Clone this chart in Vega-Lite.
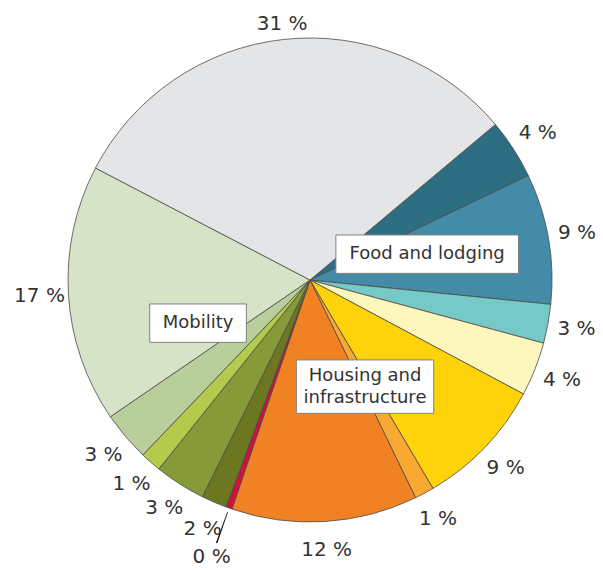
{
  "$schema": "https://vega.github.io/schema/vega-lite/v6.json",
  "width": 560,
  "height": 520,
  "autosize": "none",
  "padding": {"left": 30, "top": 20, "right": 13, "bottom": 32},
  "background": "white",
  "config": {"view": {"stroke": null}, "font": "DejaVu Sans"},
  "datasets": {
    "slices": [
      {"category": "Food and lodging 1", "group": "Food and lodging", "value": 4.0},
      {"category": "Food and lodging 2", "group": "Food and lodging", "value": 8.7},
      {"category": "Food and lodging 3", "group": "Food and lodging", "value": 2.6},
      {"category": "Housing and infrastructure 1", "group": "Housing and\ninfrastructure", "value": 3.6},
      {"category": "Housing and infrastructure 2", "group": "Housing and\ninfrastructure", "value": 8.7},
      {"category": "Housing and infrastructure 3", "group": "Housing and\ninfrastructure", "value": 1.3},
      {"category": "Housing and infrastructure 4", "group": "Housing and\ninfrastructure", "value": 12.4},
      {"category": "Housing and infrastructure 5", "group": "Housing and\ninfrastructure", "value": 0.4},
      {"category": "Mobility 1", "group": "Mobility", "value": 1.7},
      {"category": "Mobility 2", "group": "Mobility", "value": 3.4},
      {"category": "Mobility 3", "group": "Mobility", "value": 1.4},
      {"category": "Mobility 4", "group": "Mobility", "value": 3.3},
      {"category": "Mobility 5", "group": "Mobility", "value": 17.2},
      {"category": "Other", "group": "Other", "value": 31.2}
    ]
  },
  "data": {"name": "slices"},
  "transform": [
    {"window": [{"op": "row_number", "as": "idx"}]},
    {"calculate": "format(datum.value, '.0f') + ' %'", "as": "label"}
  ],
  "layer": [
    {
      "mark": {"type": "arc", "outerRadius": 242, "stroke": "#4a4a4a", "strokeWidth": 0.8},
      "encoding": {
        "theta": {"field": "value", "type": "quantitative", "stack": true, "scale": {"range": [0.8727, 7.1559]}},
        "order": {"field": "idx", "type": "quantitative"},
        "color": {
          "field": "category",
          "type": "nominal",
          "legend": null,
          "scale": {
            "domain": ["Food and lodging 1", "Food and lodging 2", "Food and lodging 3", "Housing and infrastructure 1", "Housing and infrastructure 2", "Housing and infrastructure 3", "Housing and infrastructure 4", "Housing and infrastructure 5", "Mobility 1", "Mobility 2", "Mobility 3", "Mobility 4", "Mobility 5", "Other"],
            "range": ["#2e6e82", "#438ba7", "#75c9c7", "#fef7bd", "#ffd309", "#f9a832", "#f18223", "#d0103d", "#6b7820", "#879a38", "#b3cb4b", "#b8cf9b", "#d6e3c7", "#e4e5e7"]
          }
        }
      }
    },
    {
      "mark": {"type": "arc", "innerRadius": 246, "outerRadius": 279, "padAngle": 0.0146, "color": "#1a1a1a"},
      "encoding": {
        "theta": {"field": "value", "type": "quantitative", "stack": true, "scale": {"range": [0.8727, 7.1559]}},
        "order": {"field": "idx", "type": "quantitative"},
        "detail": {"field": "category", "type": "nominal"},
        "opacity": {"condition": {"test": "datum.category === 'Housing and infrastructure 5'", "value": 1}, "value": 0}
      }
    },
    {
      "mark": {"type": "text", "radius": 271, "fontSize": 20, "fill": "#333333", "font": "DejaVu Sans"},
      "encoding": {
        "theta": {"field": "value", "type": "quantitative", "stack": true, "scale": {"range": [0.8727, 7.1559]}},
        "order": {"field": "idx", "type": "quantitative"},
        "detail": {"field": "category", "type": "nominal"},
        "text": {"field": "label", "type": "nominal", "condition": {"test": "datum.category === 'Housing and infrastructure 5' || datum.category === 'Other'", "value": ""}}
      }
    },
    {
      "mark": {"type": "text", "radius": 294, "fontSize": 20, "fill": "#333333", "font": "DejaVu Sans"},
      "encoding": {
        "theta": {"field": "value", "type": "quantitative", "stack": true, "scale": {"range": [0.8727, 7.1559]}},
        "order": {"field": "idx", "type": "quantitative"},
        "detail": {"field": "category", "type": "nominal"},
        "text": {"field": "label", "type": "nominal", "condition": {"test": "datum.category !== 'Housing and infrastructure 5'", "value": ""}}
      }
    },
    {
      "mark": {"type": "text", "radius": 258, "fontSize": 20, "fill": "#333333", "font": "DejaVu Sans"},
      "encoding": {
        "theta": {"field": "value", "type": "quantitative", "stack": true, "scale": {"range": [0.8727, 7.1559]}},
        "order": {"field": "idx", "type": "quantitative"},
        "detail": {"field": "category", "type": "nominal"},
        "text": {"field": "label", "type": "nominal", "condition": {"test": "datum.category !== 'Other'", "value": ""}}
      }
    },
    {
      "transform": [
        {"joinaggregate": [{"op": "sum", "field": "value", "as": "total"}]},
        {"window": [{"op": "sum", "field": "value", "as": "cum"}], "sort": [{"field": "idx"}], "frame": [null, 0]},
        {"calculate": "datum.cum - datum.value", "as": "cum0"},
        {"aggregate": [{"op": "min", "field": "cum0", "as": "g0"}, {"op": "max", "field": "cum", "as": "g1"}, {"op": "max", "field": "total", "as": "total"}], "groupby": ["group"]},
        {"filter": "datum.group !== 'Other'"},
        {"calculate": "0.8727 + PI * (datum.g0 + datum.g1) / datum.total", "as": "mid"},
        {"calculate": "120 * sin(datum.mid)", "as": "cx"},
        {"calculate": "120 * cos(datum.mid)", "as": "cy"},
        {"calculate": "datum.cy + (length(split(datum.group, '\\n')) - 1) * 11", "as": "ty"}
      ],
      "encoding": {
        "x": {"field": "cx", "type": "quantitative", "scale": {"domain": [-280, 280], "nice": false, "zero": false}, "axis": null}
      },
      "layer": [
        {
          "mark": {"type": "point", "filled": true, "fill": "white", "stroke": "#808080", "strokeWidth": 1, "opacity": 1, "size": 4},
          "encoding": {
            "y": {"field": "cy", "type": "quantitative", "scale": {"domain": [-260, 260], "nice": false, "zero": false}, "axis": null},
            "shape": {
              "field": "group",
              "type": "nominal",
              "legend": null,
              "scale": {
                "domain": ["Food and lodging", "Housing and\ninfrastructure", "Mobility"],
                "range": ["M-91.3,-19.2H91.3V19.2H-91.3Z", "M-68.7,-26.7H68.7V26.7H-68.7Z", "M-48.3,-19.2H48.3V19.2H-48.3Z"]
              }
            }
          }
        },
        {
          "mark": {"type": "text", "fontSize": 18, "lineBreak": "\n", "lineHeight": 22, "fill": "#333333", "align": "center", "baseline": "middle", "font": "DejaVu Sans"},
          "encoding": {
            "y": {"field": "ty", "type": "quantitative", "scale": {"domain": [-260, 260], "nice": false, "zero": false}, "axis": null},
            "text": {"field": "group", "type": "nominal"}
          }
        }
      ]
    }
  ]
}
